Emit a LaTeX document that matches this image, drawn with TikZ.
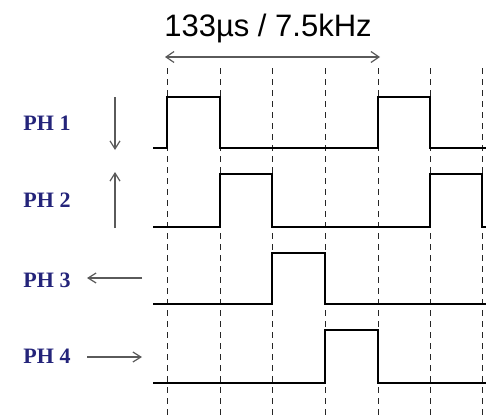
\documentclass[tikz,border=0pt]{standalone}
\usepackage{fontspec}
\setmainfont{Liberation Serif}
\newfontfamily\toplabelfont{Liberation Sans}
\usetikzlibrary{arrows.meta}
\definecolor{navy}{HTML}{24247A}
\definecolor{arrgray}{HTML}{5A5A5A}
\tikzset{
  sig/.style={line width=2.9pt, line join=miter, black},
  grid/.style={line width=0.9pt, dash pattern=on 6pt off 5pt, black!85},
  dirarrow/.style={line width=1.2pt, arrgray, -{Straight Barb[length=8pt,width=10pt]}},
  phlabel/.style={font=\fontsize{22}{24}\selectfont\bfseries, text=navy, inner sep=0pt},
}
\begin{document}
\begin{tikzpicture}[x=1pt,y=-1pt]
\useasboundingbox (0,0) rectangle (486,415);
% dashed grid
\foreach \xx in {167,220,272,325,378,430,482}
  \draw[grid] (\xx,68) -- (\xx,415);
% top label and span arrow
\node[font=\toplabelfont\fontsize{31}{33}\selectfont, inner sep=0pt] (period) at (268,28) {133µs / 7.5kHz};
\coordinate (pa) at (165,57);
\coordinate (pb) at (380,57);
\draw[line width=1.2pt, arrgray, {Straight Barb[length=8pt,width=11pt]}-{Straight Barb[length=8pt,width=11pt]}] (pa) -- (pb);
% waveforms
\draw[sig] (153,148) -- (167,148) -- (167,97) -- (220,97) -- (220,148) -- (378,148) -- (378,97) -- (430,97) -- (430,148) -- (486,148);
\draw[sig] (153,227) -- (220,227) -- (220,174) -- (272,174) -- (272,227) -- (430,227) -- (430,174) -- (482,174) -- (482,227) -- (486,227);
\draw[sig] (153,304) -- (272,304) -- (272,253) -- (325,253) -- (325,304) -- (486,304);
\draw[sig] (153,383) -- (325,383) -- (325,330) -- (378,330) -- (378,383) -- (486,383);
% labels
\node[phlabel] (ph1) at (47,123) {PH 1};
\node[phlabel] (ph2) at (47,200) {PH 2};
\node[phlabel] (ph3) at (47,280) {PH 3};
\node[phlabel] (ph4) at (47,356) {PH 4};
% direction arrows
\coordinate (a1s) at (115,97);  \coordinate (a1e) at (115,150);
\coordinate (a2s) at (115,228); \coordinate (a2e) at (115,172);
\coordinate (a3s) at (142,278); \coordinate (a3e) at (87,278);
\coordinate (a4s) at (87,357);  \coordinate (a4e) at (142,357);
\draw[dirarrow] (a1s) -- (a1e);
\draw[dirarrow] (a2s) -- (a2e);
\draw[dirarrow] (a3s) -- (a3e);
\draw[dirarrow] (a4s) -- (a4e);
\end{tikzpicture}
\end{document}
